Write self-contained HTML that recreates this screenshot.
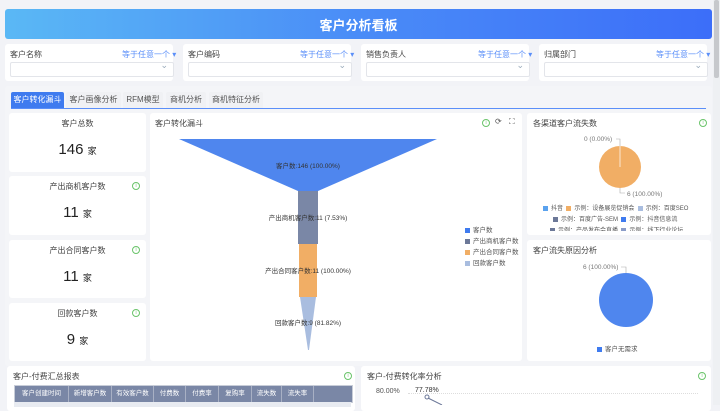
<html><head><style>
body{margin:0;width:720px;height:405px;background:#f2f3f7;font-family:"Liberation Sans","Noto Sans CJK SC",sans-serif;position:relative;overflow:hidden;color:#333}
.a{position:absolute}
.card{position:absolute;background:#fff;border-radius:3px}
.t{font-size:8px;color:#444;position:absolute}
.lk{font-size:8px;color:#5b8ff9;position:absolute}
.inp{position:absolute;border:1px solid #e3e5ea;border-radius:2px;background:#fff;height:13px}
.inp:after{content:"⌄";position:absolute;right:5px;top:-3px;color:#9ab;font-size:9px}
.tab{position:absolute;top:92px;height:16px;background:#f0f1f4;font-size:8px;color:#555;text-align:center;line-height:16px;border-radius:2px 2px 0 0}
.info{position:absolute;width:6px;height:6px;border:1px solid #6ac46a;border-radius:50%;font-size:5px;color:#6ac46a;text-align:center;line-height:6px}
.stat{text-align:center}
.stat .n{position:absolute;width:100%;font-size:15px;color:#222}
.stat .n small{font-size:9px}
.lg{font-size:6.5px;color:#555;position:absolute;white-space:nowrap}
.sq{display:inline-block;width:5px;height:5px;margin-right:3px;vertical-align:middle}
.th span{display:inline-block;text-align:center;border-right:1px solid #a8b0c4;box-sizing:border-box;height:16px;line-height:16px}
</style></head><body>
<div class="a" style="left:5px;top:9px;width:707px;height:30px;border-radius:3px;background:linear-gradient(90deg,#5ab8f5,#4a8cf7 50%,#3c6ef9)"></div>
<div class="a" style="left:0;top:15px;width:717px;text-align:center;color:#fff;font-size:13px;font-weight:bold">客户分析看板</div>
<div class="a" style="left:713px;top:0;width:7px;height:405px;background:#eef0f3"></div>
<div class="a" style="left:714px;top:0;width:5px;height:78px;background:#c6c8cc;border-radius:2px"></div>

<div class="card" style="left:5px;top:44px;width:168px;height:37px"></div>
<div class="card" style="left:183px;top:44px;width:168px;height:37px"></div>
<div class="card" style="left:361px;top:44px;width:168px;height:37px"></div>
<div class="card" style="left:539px;top:44px;width:168px;height:37px"></div>
<div class="t" style="left:10px;top:49px">客户名称</div><div class="lk" style="left:122px;top:49px">等于任意一个 ▾</div><div class="inp" style="left:10px;top:62px;width:162px"></div>
<div class="t" style="left:188px;top:49px">客户编码</div><div class="lk" style="left:300px;top:49px">等于任意一个 ▾</div><div class="inp" style="left:188px;top:62px;width:162px"></div>
<div class="t" style="left:366px;top:49px">销售负责人</div><div class="lk" style="left:478px;top:49px">等于任意一个 ▾</div><div class="inp" style="left:366px;top:62px;width:162px"></div>
<div class="t" style="left:544px;top:49px">归属部门</div><div class="lk" style="left:656px;top:49px">等于任意一个 ▾</div><div class="inp" style="left:544px;top:62px;width:162px"></div>

<div class="card" style="left:5px;top:86px;width:707px;height:280px;background:#f4f5f8"></div>
<div class="tab" style="left:11px;width:53px;background:#3f7bef;color:#fff">客户转化漏斗</div>
<div class="tab" style="left:66px;width:55px">客户画像分析</div>
<div class="tab" style="left:123px;width:40px">RFM模型</div>
<div class="tab" style="left:166px;width:40px">商机分析</div>
<div class="tab" style="left:209px;width:54px">商机特征分析</div>
<div class="a" style="left:11px;top:108px;width:695px;height:1px;background:#5b8ff9"></div>

<div class="card stat" style="left:9px;top:113px;width:137px;height:59px"><div class="t" style="width:100%;top:5px">客户总数</div><div class="n" style="top:28px">146 <small>家</small></div></div>
<div class="card stat" style="left:9px;top:176px;width:137px;height:59px"><div class="t" style="width:100%;top:5px">产出商机客户数</div><div class="info" style="left:123px;top:6px">i</div><div class="n" style="top:28px">11 <small>家</small></div></div>
<div class="card stat" style="left:9px;top:240px;width:137px;height:58px"><div class="t" style="width:100%;top:5px">产出合同客户数</div><div class="info" style="left:123px;top:6px">i</div><div class="n" style="top:28px">11 <small>家</small></div></div>
<div class="card stat" style="left:9px;top:303px;width:137px;height:58px"><div class="t" style="width:100%;top:5px">回款客户数</div><div class="info" style="left:123px;top:6px">i</div><div class="n" style="top:28px">9 <small>家</small></div></div>

<div class="card" style="left:150px;top:113px;width:372px;height:248px"></div>
<div class="t" style="left:155px;top:118px">客户转化漏斗</div>
<div class="info" style="left:482px;top:119px">i</div>
<div class="a" style="left:495px;top:117px;font-size:8px;color:#555">⟳</div>
<div class="a" style="left:509px;top:117px;font-size:8px;color:#555">⛶</div>
<svg class="a" style="left:150px;top:113px" width="372" height="248">
<polygon points="29,26 287,26 168,78 148,78" fill="#4f86ee"/>
<rect x="148" y="78" width="20" height="53" fill="#7a87a6"/>
<rect x="149" y="131" width="18" height="53" fill="#f1ae65"/>
<polygon points="150,184 166,184 159,237 158,237" fill="#a9bddf"/>
<g font-size="6.5" fill="#333" text-anchor="middle" font-family="Liberation Sans,Noto Sans CJK SC,sans-serif">
<text x="158" y="55">客户数:146 (100.00%)</text>
<text x="158" y="107">产出商机客户数:11 (7.53%)</text>
<text x="158" y="160">产出合同客户数:11 (100.00%)</text>
<text x="158" y="212">回款客户数:9 (81.82%)</text>
</g></svg>
<div class="lg" style="left:465px;top:224px"><span class="sq" style="background:#3f7bef"></span>客户数</div>
<div class="lg" style="left:465px;top:235px"><span class="sq" style="background:#6c7898"></span>产出商机客户数</div>
<div class="lg" style="left:465px;top:246px"><span class="sq" style="background:#f1ae65"></span>产出合同客户数</div>
<div class="lg" style="left:465px;top:257px"><span class="sq" style="background:#a9bddf"></span>回款客户数</div>

<div class="card" style="left:527px;top:113px;width:184px;height:122px"></div>
<div class="t" style="left:533px;top:118px">各渠道客户流失数</div><div class="info" style="left:699px;top:119px">i</div>
<svg class="a" style="left:527px;top:113px" width="184" height="122">
<circle cx="93" cy="54" r="21" fill="#f1ae65"/><line x1="93" y1="33" x2="93" y2="54" stroke="#fff" stroke-width="0.7"/>
<polyline points="93,33 93,26 89,26" fill="none" stroke="#aaa" stroke-width="0.6"/>
<polyline points="93,75 93,80 98,80" fill="none" stroke="#aaa" stroke-width="0.6"/>
<g font-size="6.5" fill="#777" font-family="Liberation Sans,sans-serif"><text x="57" y="28">0 (0.00%)</text><text x="100" y="83">6 (100.00%)</text></g></svg>
<div class="lg" style="left:543px;top:203px;font-size:6px"><span class="sq" style="background:#5aa2ee"></span>抖音 &nbsp;<span class="sq" style="background:#f1ae65"></span>示例：设备展览促销会 &nbsp;<span class="sq" style="background:#a9bddf"></span>示例：百度SEO</div>
<div class="lg" style="left:553px;top:214px;font-size:6px"><span class="sq" style="background:#6c7898"></span>示例：百度广告-SEM &nbsp;<span class="sq" style="background:#3f7bef"></span>示例：抖音信息流</div>
<div class="lg" style="left:550px;top:225px;height:6px;overflow:hidden;font-size:6px"><span class="sq" style="background:#6c7898"></span>示例：产品发布会直播 &nbsp;<span class="sq" style="background:#8a9cc8"></span>示例：线下行业论坛</div>

<div class="card" style="left:527px;top:240px;width:184px;height:121px"></div>
<div class="t" style="left:533px;top:245px">客户流失原因分析</div>
<svg class="a" style="left:527px;top:240px" width="184" height="121">
<circle cx="99" cy="60" r="27" fill="#4f86ee"/>
<polyline points="99,33 99,27 94,27" fill="none" stroke="#aaa" stroke-width="0.6"/>
<text x="56" y="29" font-size="6.5" fill="#777" font-family="Liberation Sans,sans-serif">6 (100.00%)</text></svg>
<div class="lg" style="left:597px;top:343px"><span class="sq" style="background:#3f7bef"></span>客户无需求</div>

<div class="card" style="left:7px;top:366px;width:348px;height:45px"></div>
<div class="t" style="left:13px;top:371px">客户-付费汇总报表</div><div class="info" style="left:344px;top:372px">i</div>
<div class="a" style="left:14px;top:385px;width:337px;height:16px;background:#7a87a6;border:1px solid #c8cdd8"></div>
<div class="a" style="left:14px;top:402px;width:337px;height:5px;background:#e8ebf1"></div>
<div class="a th" style="left:15px;top:386px;font-size:6.5px;color:#fff;white-space:nowrap"><span style="width:54px">客户创建时间</span><span style="width:43px">新增客户数</span><span style="width:42px">有效客户数</span><span style="width:32px">付费数</span><span style="width:33px">付费率</span><span style="width:33px">复购率</span><span style="width:30px">流失数</span><span style="width:32px">流失率</span></div>
<div class="card" style="left:361px;top:366px;width:350px;height:45px"></div>
<div class="t" style="left:367px;top:371px">客户-付费转化率分析</div><div class="info" style="left:698px;top:372px">i</div>
<div class="a" style="left:376px;top:388px;font-size:7px;color:#555">80.00%</div>
<div class="a" style="left:415px;top:387px;font-size:7px;color:#333">77.78%</div>
<div class="a" style="left:408px;top:393px;width:290px;border-top:1px dotted #ddd"></div>
<svg class="a" style="left:420px;top:390px" width="40" height="15"><circle cx="7" cy="7" r="2" fill="#fff" stroke="#6c7898"/><line x1="8" y1="8" x2="22" y2="15" stroke="#6c7898"/></svg>
</body></html>
